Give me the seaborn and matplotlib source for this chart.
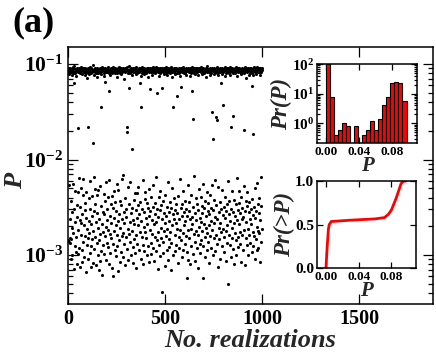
import numpy as np
import pandas as pd
import matplotlib
matplotlib.use("Agg")
import matplotlib.pyplot as plt
import seaborn as sns

# ---------- 1. DATA ----------
# P for each realization (1..1000), stored in units of 1e-5
p_rows = [
    [8650, 144, 9120, 8240, 136, 7960, 540, 8870, 150, 240, 9050, 133, 8410, 90, 365, 8720, 147, 7690, 194, 8980],
    [284, 8530, 100, 9270, 8110, 560, 169, 8790, 72, 8340, 6370, 302, 9600, 125, 8060, 470, 8950, 221, 108, 8480],
    [8820, 155, 7420, 337, 9160, 81, 8390, 252, 8600, 183, 452, 8170, 2120, 103, 8930, 640, 8280, 119, 9080, 233],
    [75, 8710, 316, 8020, 9340, 163, 216, 8560, 505, 8890, 113, 85, 7850, 271, 9010, 424, 8440, 136, 620, 8660],
    [9200, 207, 8350, 96, 296, 8780, 7590, 158, 352, 9070, 8150, 66, 247, 8520, 455, 8910, 128, 7120, 188, 8600],
    [151, 8250, 2170, 90, 9130, 393, 8740, 229, 7930, 170, 8470, 590, 105, 9260, 306, 8080, 123, 8830, 75, 209],
    [8990, 411, 8310, 147, 259, 8650, 1500, 9700, 83, 180, 8420, 660, 7760, 289, 8860, 116, 9020, 490, 154, 8190],
    [345, 8570, 79, 8920, 224, 8130, 428, 7290, 133, 9150, 276, 8380, 100, 8700, 190, 480, 8010, 144, 8830, 70],
    [8460, 241, 9090, 167, 8270, 86, 530, 8810, 110, 7870, 328, 3570, 8590, 211, 9310, 62, 8400, 282, 174, 9040],
    [126, 8680, 440, 8110, 267, 8950, 102, 7510, 6530, 157, 8520, 369, 9190, 196, 88, 8350, 580, 8770, 135, 235],
    [8900, 300, 8210, 120, 9380, 407, 8630, 185, 81, 8050, 615, 8490, 5250, 165, 8870, 257, 7690, 106, 9110, 339],
    [8330, 152, 8740, 219, 9000, 419, 7980, 74, 8560, 311, 8180, 130, 9230, 61, 8450, 245, 470, 8790, 177, 8080],
    [114, 9060, 357, 8620, 205, 8290, 98, 8940, 292, 7400, 161, 8510, 560, 8030, 124, 9170, 227, 8710, 68, 475],
    [8390, 271, 8850, 145, 9290, 85, 8150, 372, 8600, 191, 9010, 107, 7820, 331, 8470, 160, 620, 8920, 236, 8240],
    [172, 8700, 690, 9140, 95, 8360, 285, 7030, 129, 8800, 217, 8550, 396, 9050, 78, 8210, 305, 8980, 153, 8420],
    [253, 8670, 2170, 117, 1950, 9220, 187, 8090, 520, 8730, 89, 8300, 346, 9650, 168, 5570, 8500, 223, 8940, 136],
    [8130, 575, 8860, 101, 8410, 275, 9070, 180, 7700, 1290, 313, 8620, 122, 8990, 234, 8250, 82, 8780, 377, 209],
    [9160, 146, 8340, 441, 8570, 104, 8920, 297, 7950, 164, 8690, 73, 9250, 244, 8450, 450, 8100, 131, 8830, 510],
    [205, 8540, 335, 9030, 112, 8260, 268, 8740, 175, 9120, 6370, 363, 8380, 91, 7580, 225, 8900, 3570, 156, 8610],
    [8060, 304, 9310, 127, 8480, 605, 8810, 80, 8200, 196, 9000, 282, 7880, 109, 8650, 383, 8950, 176, 460, 8330],
    [150, 8790, 242, 8140, 352, 9080, 99, 8560, 212, 7240, 311, 8410, 124, 9190, 259, 8700, 84, 8280, 495, 8880],
    [184, 8520, 5430, 286, 9040, 134, 8180, 402, 8760, 103, 8990, 231, 7760, 165, 8600, 545, 9270, 118, 8350, 317],
    [8920, 210, 8230, 86, 8680, 347, 9130, 154, 8050, 268, 8470, 650, 8830, 111, 9360, 220, 4930, 8390, 301, 144],
    [8740, 71, 8290, 250, 9020, 173, 7470, 407, 8610, 126, 8870, 293, 8150, 98, 9180, 470, 8530, 194, 8960, 151],
    [332, 8410, 5570, 8800, 236, 41, 9060, 136, 8230, 371, 8690, 105, 7920, 276, 8570, 179, 9100, 77, 8340, 217],
    [8950, 428, 8120, 160, 8730, 255, 9240, 114, 8480, 321, 7650, 187, 8860, 88, 8300, 580, 9010, 147, 8630, 284],
    [121, 8570, 225, 9150, 355, 8070, 174, 8790, 69, 8440, 308, 9320, 133, 8210, 505, 8910, 205, 7350, 270, 8660],
    [8380, 100, 3520, 8990, 241, 8250, 394, 8720, 162, 9090, 294, 8500, 109, 7810, 215, 8840, 127, 9200, 342, 8140],
    [189, 8600, 4620, 274, 8930, 83, 8320, 415, 8750, 154, 9050, 240, 8020, 119, 8540, 625, 8890, 183, 7580, 312],
    [5780, 8460, 144, 9170, 254, 8180, 95, 8810, 346, 8400, 169, 9280, 470, 8620, 113, 7990, 282, 8960, 206, 8280],
    [130, 8700, 370, 8100, 226, 9070, 157, 8520, 300, 7700, 107, 58, 8870, 258, 8360, 540, 9130, 182, 8580, 89],
    [8940, 288, 8230, 151, 8680, 355, 9010, 80, 8470, 237, 7450, 188, 8820, 424, 8150, 125, 9300, 251, 5250, 8590],
    [210, 8760, 2640, 102, 8330, 315, 9150, 165, 8560, 680, 8050, 137, 8900, 274, 7870, 87, 8650, 393, 9040, 177],
    [8420, 232, 8810, 118, 9190, 339, 8260, 162, 8690, 74, 7590, 296, 8980, 195, 8370, 495, 9080, 131, 8540, 246],
    [105, 8880, 408, 8160, 221, 9230, 145, 8510, 329, 7960, 179, 8730, 276, 58, 9020, 560, 8300, 123, 8620, 212],
    [8790, 309, 8070, 153, 8920, 96, 8450, 369, 9110, 193, 7380, 257, 8600, 112, 8840, 460, 8200, 169, 9550, 290],
    [136, 8550, 347, 8980, 208, 8290, 82, 8710, 268, 9060, 158, 7740, 422, 8430, 119, 8860, 308, 8120, 229, 540],
    [3140, 8640, 184, 9140, 297, 8360, 101, 8770, 1630, 217, 8510, 374, 7900, 149, 9000, 250, 8250, 110, 8690, 610],
    [2810, 8930, 163, 8400, 333, 8090, 129, 9210, 237, 2590, 8580, 75, 8820, 520, 7620, 194, 8960, 281, 8320, 146],
    [8720, 357, 8170, 215, 9090, 90, 8490, 301, 8850, 6280, 174, 7800, 480, 8620, 124, 9170, 265, 8380, 187, 3720],
    [8260, 156, 8940, 317, 8560, 108, 9300, 243, 7480, 402, 8710, 179, 8020, 86, 8890, 288, 8450, 135, 9060, 345],
    [8640, 207, 8350, 590, 9150, 50, 8790, 269, 8130, 161, 8980, 364, 7690, 126, 8530, 227, 9230, 95, 2200, 8410],
    [305, 8830, 151, 8210, 470, 9000, 193, 8600, 2850, 117, 8370, 284, 7970, 218, 8920, 81, 8480, 374, 9120, 172],
    [8550, 258, 8090, 144, 8760, 339, 9270, 101, 8420, 232, 7520, 640, 8870, 154, 8310, 296, 9010, 120, 8690, 470],
    [210, 9080, 352, 8520, 131, 8180, 275, 8950, 176, 8640, 84, 7830, 409, 8780, 238, 9190, 164, 8270, 309, 8830],
    [8390, 112, 8910, 251, 8030, 530, 2040, 8600, 185, 9330, 290, 8470, 79, 8750, 372, 7210, 149, 8990, 223, 8560],
    [330, 8820, 127, 8240, 455, 9050, 189, 8670, 99, 8430, 279, 7760, 164, 8920, 359, 8150, 240, 9140, 134, 8590],
    [8700, 212, 8330, 301, 9020, 107, 5890, 8560, 385, 8110, 173, 1850, 8860, 265, 7640, 123, 9210, 316, 8480, 157],
    [8950, 246, 8270, 91, 8780, 500, 9100, 147, 8400, 288, 7900, 196, 8640, 570, 9260, 113, 8190, 346, 8830, 180],
    [118, 8510, 276, 8990, 169, 8350, 399, 9070, 85, 8620, 232, 7740, 328, 8870, 137, 8240, 650, 9150, 188, 8730],
]
p_unit = 1e-5

# histogram of P (inset), bin centres and Pr(P)
hist_p = [0.00195, 0.00685, 0.01175, 0.01665, 0.02155, 0.02645, 0.03625, 0.04605, 0.05095,
          0.05585, 0.06075, 0.06565, 0.07055, 0.07545, 0.08035, 0.08525, 0.09015, 0.09505]
hist_pr = [100, 8.0, 0.4, 0.6, 1.0, 0.8, 0.8, 0.4, 0.6, 1.2, 0.6, 1.4, 4.0, 7.7, 23, 25.5, 23, 5.6]

# cumulative curve (inset)
cdf_p = [0.0, 0.0015, 0.003, 0.004, 0.0065, 0.030, 0.060, 0.0715, 0.0765, 0.080, 0.0857, 0.0918, 0.095, 0.0978]
cdf_pr = [0.0, 0.25, 0.45, 0.50, 0.535, 0.55, 0.565, 0.58, 0.62, 0.667, 0.80, 0.97, 1.0, 1.0]

p_vals = np.array([v for row in p_rows for v in row]) * p_unit
df = pd.DataFrame({"realization": np.arange(1, len(p_vals) + 1), "P": p_vals})


# ---------- 2. STYLE ----------
sns.set_style("ticks")
plt.rcParams["font.family"] = ["Liberation Serif", "DejaVu Serif"]
plt.rcParams["font.weight"] = "bold"
plt.rcParams["mathtext.fontset"] = "custom"
plt.rcParams["mathtext.rm"] = "Liberation Serif:bold"
plt.rcParams["mathtext.bf"] = "Liberation Serif:bold"
plt.rcParams["mathtext.it"] = "Liberation Serif:bold:italic"
plt.rcParams["axes.linewidth"] = 1.1
plt.rcParams["text.color"] = "black"

def style_ticks(ax, size, major=6, minor=3):
    ax.tick_params(which="both", direction="in", top=True, right=True,
                   width=0.9, labelsize=size, colors="black")
    ax.tick_params(which="major", length=major)
    ax.tick_params(which="minor", length=minor)
    for s in ax.spines.values():
        s.set_color("black")

lab_font = dict(fontweight="bold", fontstyle="italic")


# ---------- 3. MAIN SCATTER ----------
fig = plt.figure(figsize=(4.36, 3.55), dpi=100)
ax = fig.add_axes([0.156, 0.1437, 0.8365, 0.724])

sns.scatterplot(data=df, x="realization", y="P", ax=ax, color="black",
                s=5, linewidth=0, legend=False)
ax.set_yscale("log")
ax.set_xlim(0, 1880)
ax.set_ylim(3.07e-4, 0.151)
ax.set_xticks([0, 500, 1000, 1500])
ax.set_yticks([1e-3, 1e-2, 1e-1])
ax.set_yticklabels([r"$\mathbf{10^{-3}}$", r"$\mathbf{10^{-2}}$", r"$\mathbf{10^{-1}}$"])
style_ticks(ax, 14.5, major=7, minor=3.5)
ax.tick_params(axis="y", labelsize=15.5)
ax.set_xlabel("No. realizations", fontsize=19, labelpad=0, **lab_font)
ax.set_ylabel("P", fontsize=19, **lab_font)
ax.yaxis.set_label_coords(-0.112, 0.48)

fig.text(0.028, 0.982, "(a)", fontsize=26, fontweight="bold", va="top", ha="left")


# ---------- 4. INSET: HISTOGRAM ----------
ax1 = fig.add_axes([0.727, 0.597, 0.229, 0.2225])
ax1.set_facecolor("white")
sns.histplot(x=hist_p, weights=hist_pr, binwidth=0.0049, binrange=(-0.0005, 0.0975),
             ax=ax1, color="#ff0000", edgecolor="black", linewidth=0.8, alpha=1)
ax1.set_yscale("log")
ax1.set_xlim(-0.011, 0.110)
ax1.set_ylim(0.215, 100)
ax1.set_xticks([0.0, 0.04, 0.08])
ax1.set_xticklabels(["0.00", "0.04", "0.08"])
ax1.set_yticks([1, 10, 100])
ax1.set_yticklabels([r"$\mathbf{10^{0}}$", r"$\mathbf{10^{1}}$", r"$\mathbf{10^{2}}$"])
style_ticks(ax1, 9.5, major=4, minor=2)
ax1.tick_params(axis="y", labelsize=11, pad=2)
ax1.tick_params(axis="x", pad=2)
ax1.set_xlabel("P", fontsize=15, labelpad=-1, **lab_font)
ax1.set_ylabel("Pr(P)", fontsize=16.5, labelpad=0, **lab_font)


# ---------- 5. INSET: CUMULATIVE ----------
ax2 = fig.add_axes([0.727, 0.245, 0.227, 0.245])
ax2.set_facecolor("white")
sns.lineplot(x=cdf_p, y=cdf_pr, ax=ax2, color="#ff0000", linewidth=2, sort=False)
ax2.set_xlim(-0.011, 0.110)
ax2.set_ylim(0, 1)
ax2.set_xticks([0.0, 0.04, 0.08])
ax2.set_xticklabels(["0.00", "0.04", "0.08"])
ax2.set_yticks([0, 0.5, 1.0])
ax2.set_yticklabels(["0.0", "0.5", "1.0"])
style_ticks(ax2, 9.5, major=4, minor=2)
ax2.tick_params(axis="y", labelsize=11, pad=2)
ax2.tick_params(axis="x", pad=2)
ax2.set_xlabel("P", fontsize=15, labelpad=-1, **lab_font)
ax2.set_ylabel("Pr(>P)", fontsize=16.5, labelpad=0, **lab_font)

fig.savefig("out.png", dpi=100)
